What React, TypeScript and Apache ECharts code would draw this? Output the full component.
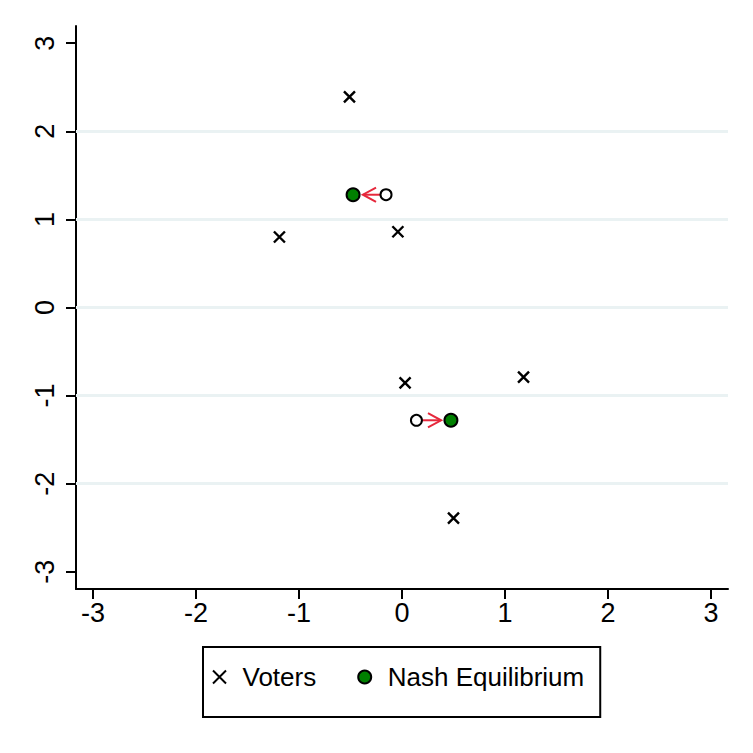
import React, { useEffect, useRef } from "react";
import * as echarts from "echarts";

const tickValues = [-3, -2, -1, 0, 1, 2, 3];
const gridValues = [-2, -1, 0, 1, 2];
const voters: [number, number][] = [
  [-0.51, 2.39],
  [-1.19, 0.8],
  [-0.04, 0.86],
  [0.03, -0.855],
  [1.18, -0.79],
  [0.5, -2.39],
];
const nash: [number, number][] = [
  [-0.475, 1.28],
  [0.475, -1.28],
];
const starts: [number, number][] = [
  [-0.155, 1.28],
  [0.14, -1.28],
];
// [fromX, fromY, toX, toY]
const arrows: [number, number, number, number][] = [
  [-0.155, 1.28, -0.38, 1.28],
  [0.14, -1.28, 0.38, -1.28],
];

const RED = "#e6283c";
const XMARK = "path://M0,0L10,10M10,0L0,10";

export default function App() {
  const ref = useRef<HTMLDivElement>(null);
  useEffect(() => {
    if (!ref.current) return;
    const chart = echarts.init(ref.current, undefined, { renderer: "svg" });
    const font = "'Liberation Sans', Arial, sans-serif";
    chart.setOption({
      animation: false,
      backgroundColor: "#ffffff",
      textStyle: { fontFamily: font },
      grid: { left: 76, right: 25, top: 26, bottom: 164, containLabel: false },
      xAxis: {
        type: "value",
        min: -3.165,
        max: 3.165,
        axisLine: { show: true, onZero: false, lineStyle: { color: "#000", width: 2 } },
        axisTick: { show: true, length: 10, customValues: tickValues, lineStyle: { color: "#000", width: 2 } },
        axisLabel: { customValues: tickValues, fontSize: 27, color: "#000", margin: 10, fontFamily: font },
        splitLine: { show: false },
      },
      yAxis: {
        type: "value",
        min: -3.195,
        max: 3.195,
        axisLine: { show: true, onZero: false, lineStyle: { color: "#000", width: 2 } },
        axisTick: { show: true, length: 10, customValues: tickValues, lineStyle: { color: "#000", width: 2 } },
        axisLabel: { customValues: tickValues, fontSize: 27, color: "#000", margin: 18, rotate: 90, fontFamily: font },
        splitLine: { show: false },
      },
      legend: {
        data: ["Voters", "Nash Equilibrium"],
        left: 203,
        top: 647,
        orient: "horizontal",
        itemWidth: 36,
        itemHeight: 13,
        itemGap: 41,
        padding: [17, 16, 27, 9],
        borderColor: "#000",
        borderWidth: 2,
        textStyle: { fontSize: 26, color: "#000", fontFamily: font },
      },
      series: [
        {
          name: "grid",
          type: "line",
          data: [],
          silent: true,
          markLine: {
            z: 1,
            silent: true,
            symbol: ["none", "none"],
            label: { show: false },
            lineStyle: { color: "#eaf2f3", width: 3, type: "solid" },
            data: gridValues.map((v) => ({ yAxis: v })),
          },
        },
        {
          name: "arrows",
          type: "custom",
          z: 3,
          silent: true,
          data: arrows,
          renderItem: (params: any, api: any) => {
            const p1 = api.coord([api.value(0), api.value(1)]);
            const p2 = api.coord([api.value(2), api.value(3)]);
            const ang = Math.atan2(p2[1] - p1[1], p2[0] - p1[0]);
            const L = 15;
            const a = 0.5;
            const h1 = [p2[0] - L * Math.cos(ang - a), p2[1] - L * Math.sin(ang - a)];
            const h2 = [p2[0] - L * Math.cos(ang + a), p2[1] - L * Math.sin(ang + a)];
            const style = { stroke: RED, lineWidth: 2, fill: null };
            return {
              type: "group",
              children: [
                { type: "line", shape: { x1: p1[0], y1: p1[1], x2: p2[0], y2: p2[1] }, style },
                { type: "polyline", shape: { points: [h1, p2, h2] }, style },
              ],
            };
          },
        },
        {
          name: "start",
          type: "scatter",
          z: 4,
          symbol: "circle",
          symbolSize: 11,
          data: starts,
          itemStyle: { color: "#ffffff", borderColor: "#000", borderWidth: 2, opacity: 1 },
        },
        {
          name: "Voters",
          type: "scatter",
          z: 4,
          symbol: XMARK,
          symbolSize: 11,
          data: voters,
          itemStyle: { color: "#000", borderColor: "#000", borderWidth: 2.4, opacity: 1 },
        },
        {
          name: "Nash Equilibrium",
          type: "scatter",
          z: 5,
          symbol: "circle",
          symbolSize: 13,
          data: nash,
          itemStyle: { color: "#008000", borderColor: "#000", borderWidth: 2, opacity: 1 },
        },
      ],
    });
    return () => chart.dispose();
  }, []);
  return (
    <div
      ref={ref}
      style={{ position: "fixed", left: 0, top: 0, width: 753, height: 753, background: "#fff" }}
    />
  );
}
